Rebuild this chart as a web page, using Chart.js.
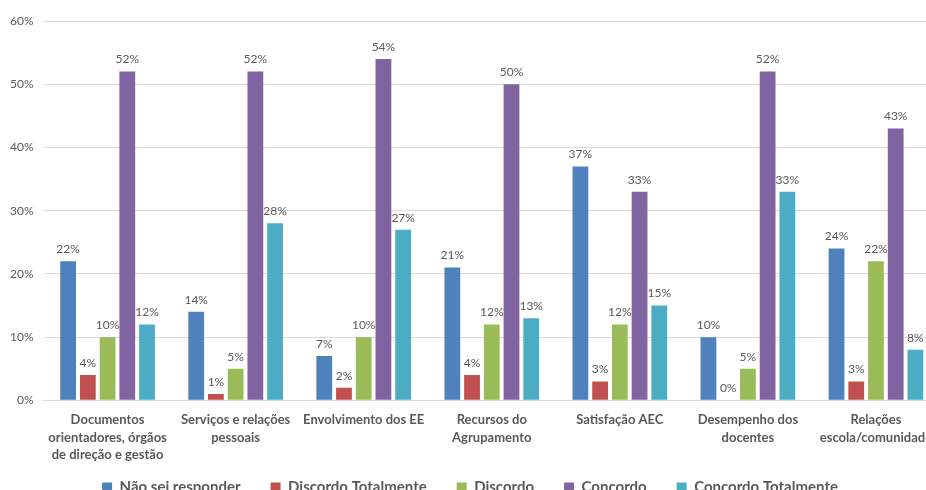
<!DOCTYPE html>
<html>
<head>
<meta charset="utf-8">
<script src="https://cdn.jsdelivr.net/npm/chart.js@4/dist/chart.umd.min.js"></script>
<style>
  html, body { margin: 0; padding: 0; background: #fff; overflow: hidden; }
  #wrap { width: 926px; height: 490px; overflow: hidden; }
</style>
</head>
<body>
<div id="wrap">
  <canvas id="avaliacao" width="946" height="522"></canvas>
</div>
<script>
// Categorias (eixo X)
var categorias = [
  ['Documentos', 'orientadores, órgãos', 'de direção e gestão'],
  ['Serviços e relações', 'pessoais'],
  ['Envolvimento dos EE'],
  ['Recursos do', 'Agrupamento'],
  ['Satisfação AEC'],
  ['Desempenho dos', 'docentes'],
  ['Relações', 'escola/comunidade']
];

// Percentagens por resposta
var naoSei = [22, 14, 7, 21, 37, 10, 24];
var discordoTotal = [4, 1, 2, 4, 3, 0, 3];
var discordo = [10, 5, 10, 12, 12, 5, 22];
var concordo = [52, 52, 54, 50, 33, 52, 43];
var concordoTotal = [12, 28, 27, 13, 15, 33, 8];

var eixoY = [0, 10, 20, 30, 40, 50, 60];

var cinza = '#595959';
var fonte = 'Lato, "Open Sans", sans-serif';

// a legenda fica mais perto dos rótulos do eixo X
if (Chart.Legend && Chart.Legend._element) {
  var drawLegenda = Chart.Legend._element.prototype.draw;
  Chart.Legend._element.prototype.draw = function() {
    var ctx = this.ctx;
    ctx.save();
    ctx.translate(0, -17);
    drawLegenda.call(this);
    ctx.restore();
  };
}

// escreve o valor por cima de cada barra
var rotulos = {
  id: 'rotulos',
  afterDatasetsDraw: function(chart) {
    var ctx = chart.ctx;
    ctx.save();
    ctx.font = '12px ' + fonte;
    ctx.fillStyle = cinza;
    ctx.textAlign = 'center';
    ctx.textBaseline = 'bottom';
    chart.data.datasets.forEach(function(ds, i) {
      var meta = chart.getDatasetMeta(i);
      meta.data.forEach(function(bar, j) {
        ctx.fillText(ds.data[j] + '%', bar.x, bar.y - 6);
      });
    });
    ctx.restore();
  }
};

var canvas = document.getElementById('avaliacao');

var chart = new Chart(canvas, {
  type: 'bar',
  data: {
    labels: categorias,
    datasets: [
      { label: 'Não sei responder', data: naoSei, backgroundColor: '#4F81BD' },
      { label: 'Discordo Totalmente', data: discordoTotal, backgroundColor: '#C0504D' },
      { label: 'Discordo', data: discordo, backgroundColor: '#9BBB59' },
      { label: 'Concordo', data: concordo, backgroundColor: '#8064A2' },
      { label: 'Concordo Totalmente', data: concordoTotal, backgroundColor: '#4BACC6' }
    ]
  },
  options: {
    responsive: false,
    animation: false,
    layout: { padding: { left: 0, right: 6, top: 21, bottom: 0 } },
    datasets: {
      bar: { categoryPercentage: 0.77, barPercentage: 0.8 }
    },
    scales: {
      x: {
        grid: { display: false },
        border: { color: '#D9D9D9' },
        ticks: {
          color: cinza,
          padding: 3,
          maxRotation: 0,
          autoSkip: false,
          font: { family: fonte, size: 13, weight: 'bold', lineHeight: 1.35 }
        }
      },
      y: {
        min: 0,
        max: 60,
        afterBuildTicks: function(axis) {
          axis.ticks = eixoY.map(function(v) { return { value: v }; });
        },
        grid: { color: '#D9D9D9', drawTicks: false },
        border: { display: false },
        ticks: {
          color: cinza,
          padding: 10,
          font: { family: fonte, size: 12 },
          callback: function(v) { return v + '%'; }
        }
      }
    },
    plugins: {
      tooltip: { enabled: false },
      legend: {
        position: 'bottom',
        labels: {
          color: cinza,
          boxWidth: 10,
          boxHeight: 10,
          padding: 30,
          font: { family: fonte, size: 15, weight: 'bold' }
        }
      }
    }
  },
  plugins: [rotulos]
});
</script>
</body>
</html>
